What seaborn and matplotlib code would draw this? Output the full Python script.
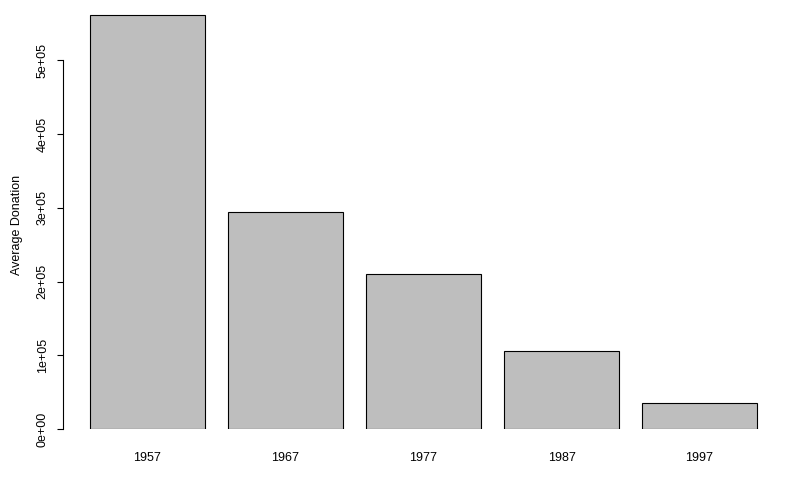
#Average donation by year - bar chart
import numpy as np
import pandas as pd
import matplotlib
matplotlib.use("Agg")
import matplotlib.pyplot as plt
import seaborn as sns

years = ['1957', '1967', '1977', '1987', '1997']
avg_donation = [561000, 294000, 210000, 105500, 35200]

df = pd.DataFrame({'year': years, 'donation': avg_donation})

sns.set_style('white')
plt.rcParams['font.family'] = ['Liberation Sans', 'DejaVu Sans']
plt.rcParams['text.color'] = 'black'
plt.rcParams['axes.labelcolor'] = 'black'
plt.rcParams['xtick.color'] = 'black'
plt.rcParams['ytick.color'] = 'black'

fig = plt.figure(figsize=(8, 5), dpi=100)
ax = fig.add_axes([0.07875, 0.1414, 0.9009, 0.8414])

sns.barplot(x='year', y='donation', data=df, color='#bebebe', saturation=1,
            edgecolor='black', linewidth=0.8, width=0.833, ax=ax)

ax.set_xlim(-0.612, 4.610)
ax.set_ylim(0, 5.7e5)

# y axis like base R: spine only from 0 to 5e5, rotated labels
for s in ['top', 'right', 'bottom']:
    ax.spines[s].set_visible(False)
ax.spines['left'].set_bounds(0, 5e5)
ax.spines['left'].set_linewidth(0.8)
ax.spines['left'].set_color('black')
ax.set_yticks(np.arange(0, 6e5, 1e5))
ax.set_yticklabels(['0e+00', '1e+05', '2e+05', '3e+05', '4e+05', '5e+05'],
                   rotation=90, va='center', fontsize=9)
ax.tick_params(axis='y', direction='out', length=4.3, width=0.8, colors='black', pad=6, left=True)
ax.tick_params(axis='x', length=0, pad=16, labelsize=9, colors='black')

ax.set_xlabel('')
ax.set_ylabel('Average Donation', fontsize=9, color='black')
ax.yaxis.set_label_coords(-0.056, 0.486)

plt.savefig('out.png', dpi=100)
plt.close()
